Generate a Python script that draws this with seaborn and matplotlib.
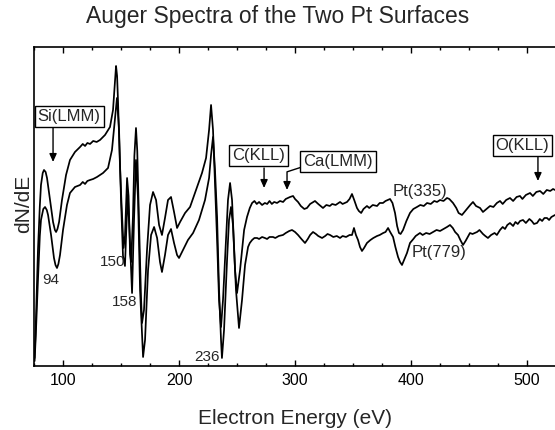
import pandas as pd
import seaborn as sns
import matplotlib.pyplot as plt
from matplotlib.ticker import MultipleLocator

# Pt(335) surface, upper trace (energy in eV, dN/dE in arbitrary units)
pt335_ev = [75.5, 76.5, 78.4, 80.0, 81.0, 82.5, 83.6, 85.0, 86.2, 88.8, 91.4, 93.0, 94.0, 95.2, 96.6,
            99.1, 102.6, 106.0, 110.3, 114.7, 117.0, 119.0, 121.0, 123.3, 126.0, 129.0, 131.9, 136.2,
            140.5, 143.1, 144.8, 145.7, 146.6, 147.4, 149.1, 150.5, 152.2, 153.4, 155.2, 156.5, 157.8,
            158.7, 160.3, 161.5, 162.9, 164.0, 165.6, 167.2, 168.1, 169.8, 172.4, 175.0, 177.6, 180.2,
            182.8, 185.3, 187.9, 190.5, 193.1, 195.7, 198.3, 200.9, 205.2, 209.5, 214.7, 219.8, 223.3,
            225.9, 227.6, 229.3, 231.0, 232.8, 234.5, 236.2, 237.9, 240.5, 242.2, 244.0, 245.7, 248.3,
            250.0, 252.6, 256.1, 258.6, 261.0, 263.0, 265.0, 267.0, 269.0, 271.6, 274.0, 276.0, 278.0,
            280.0, 282.0, 284.5, 287.0, 289.7, 292.0, 295.7, 298.3, 300.0, 302.6, 305.0, 308.0, 310.3,
            313.0, 317.2, 320.0, 324.1, 327.0, 330.0, 332.0, 335.0, 338.8, 341.0, 344.8, 347.0, 349.1,
            351.0, 353.4, 355.0, 357.0, 359.0, 362.0, 364.0, 367.0, 370.7, 373.0, 375.8, 378.0, 381.9,
            384.0, 386.2, 388.0, 389.6, 391.0, 393.1, 396.0, 399.1, 402.0, 405.1, 408.0, 411.0, 413.8,
            417.0, 420.0, 422.4, 425.0, 428.0, 431.0, 433.0, 436.2, 439.0, 441.0, 443.9, 446.0, 448.2,
            451.0, 453.4, 456.0, 459.5, 462.0, 465.0, 468.1, 471.0, 474.0, 476.7, 479.0, 482.0, 485.3,
            488.0, 491.0, 493.9, 496.0, 499.0, 502.6, 505.0, 508.0, 511.2, 514.0, 517.0, 520.0, 522.4,
            524.1]
pt335_signal = [8, 40, 116, 160, 181, 193, 196, 194, 188, 166, 144, 136, 134, 137, 144,
                166, 191, 206, 214, 219, 222, 220, 223, 222, 225, 224, 226, 231,
                239, 256, 284, 300, 290, 265, 200, 160, 118, 130, 188, 170, 112,
                104, 150, 210, 238, 215, 140, 70, 43, 56, 116, 161, 174, 166,
                141, 131, 148, 166, 169, 154, 138, 144, 153, 159, 176, 193, 208,
                236, 261, 236, 183, 126, 66, 39, 66, 126, 166, 183, 166, 96,
                73, 96, 136, 149, 158, 163, 165, 162, 164, 161, 163, 162, 165,
                162, 164, 163, 165, 164, 167, 169, 170, 167, 164, 160, 157, 158,
                162, 165, 162, 158, 161, 160, 162, 161, 164, 162, 164, 167, 172,
                166, 158, 155, 153, 157, 160, 158, 161, 160, 163, 163, 165, 167,
                163, 153, 140, 133, 132, 136, 145, 153, 157, 159, 161, 160, 163,
                162, 165, 164, 166, 165, 168, 167, 163, 158, 153, 151, 154, 157,
                161, 164, 160, 158, 154, 157, 160, 159, 163, 165, 162, 166, 168,
                165, 169, 170, 167, 171, 173, 170, 174, 175, 172, 176, 175, 177,
                176]

# Pt(779) surface, lower trace
pt779_ev = [75.5, 76.5, 78.4, 80.0, 81.0, 83.0, 84.5, 86.0, 87.1, 89.7, 92.2, 93.5, 94.8, 96.0, 97.4,
            100.0, 103.4, 106.0, 110.3, 114.7, 117.0, 119.0, 121.0, 123.3, 126.0, 129.3, 134.5, 138.8,
            142.2, 144.8, 146.5, 148.3, 150.0, 151.7, 153.4, 154.5, 155.8, 157.5, 159.5, 161.2, 162.9,
            164.7, 166.4, 169.0, 170.7, 173.3, 175.9, 178.5, 181.1, 183.6, 185.3, 187.9, 190.5, 193.1,
            195.7, 198.3, 200.0, 203.4, 207.7, 212.1, 217.2, 222.4, 225.9, 227.6, 229.3, 231.0, 232.8,
            234.5, 236.2, 237.0, 238.8, 241.4, 243.1, 244.8, 246.5, 249.1, 251.7, 254.3, 256.9, 259.5,
            261.0, 263.0, 265.0, 267.3, 269.0, 271.6, 274.0, 275.9, 278.0, 281.0, 283.0, 286.0, 289.6,
            292.0, 295.0, 297.4, 300.0, 302.6, 305.5, 308.6, 311.0, 313.0, 315.5, 318.0, 320.0, 323.3,
            326.0, 328.0, 330.2, 333.0, 336.0, 338.8, 341.0, 344.0, 347.0, 349.1, 350.8, 352.5, 354.3,
            356.0, 357.7, 359.5, 362.0, 365.0, 367.5, 370.7, 373.0, 376.0, 378.0, 380.2, 382.0, 384.5,
            386.5, 388.8, 390.5, 392.2, 394.0, 396.5, 399.1, 402.0, 404.0, 407.7, 410.0, 413.0, 416.0,
            419.0, 422.0, 425.0, 428.0, 431.0, 433.6, 436.0, 438.0, 440.5, 442.5, 444.8, 447.0, 450.8,
            453.0, 456.9, 459.0, 462.0, 464.0, 466.3, 469.0, 472.0, 474.0, 476.7, 479.0, 481.0, 483.0,
            485.3, 488.0, 490.0, 492.0, 494.0, 496.5, 499.0, 502.0, 504.0, 506.0, 508.6, 511.0, 513.0,
            515.0, 517.2, 519.0, 521.0, 524.1]
pt779_signal = [5, 30, 86, 130, 146, 157, 159, 156, 151, 131, 108, 101, 98, 102, 111,
                136, 161, 173, 179, 181, 184, 182, 185, 186, 187, 189, 193, 198,
                216, 248, 268, 236, 166, 110, 100, 135, 172, 130, 73, 146, 206,
                166, 76, 9, 26, 96, 131, 139, 128, 104, 94, 111, 131, 137,
                123, 111, 108, 116, 126, 133, 146, 166, 188, 211, 229, 196, 149,
                76, 26, 8, 36, 106, 146, 159, 141, 76, 38, 66, 101, 119,
                123, 126, 128, 128, 127, 129, 128, 127, 129, 129, 128, 130, 131,
                133, 135, 136, 134, 131, 127, 123, 127, 131, 134, 132, 130, 128,
                130, 132, 131, 129, 130, 128, 130, 129, 131, 131, 138, 131, 126,
                119, 115, 118, 123, 126, 128, 130, 131, 133, 134, 138, 134, 129,
                119, 109, 104, 101, 106, 113, 123, 127, 130, 133, 131, 133, 132,
                134, 136, 135, 137, 139, 141, 138, 134, 131, 126, 121, 125, 133,
                132, 134, 136, 132, 130, 128, 131, 133, 131, 136, 139, 137, 141,
                143, 140, 144, 142, 145, 146, 143, 147, 145, 142, 143, 147, 145,
                148, 148, 146, 149, 151]

# peak energies marked on the curves
peak_labels = ["94", "150", "158", "236"]
peak_x = [81.9, 153.4, 163.8, 235.3]
peak_y = [86, 104, 64, 9]
peak_ha = ["left", "right", "right", "right"]

# element labels in boxes with arrows pointing to the curves
elem_labels = ["Si(LMM)", "C(KLL)", "Ca(LMM)", "O(KLL)"]
elem_box_x = [105.2, 268.5, 337.0, 496.1]
elem_box_y = [249.5, 210, 204, 220]
arrow_from_x = [91.4, 273.3, 306.0, 509.4]
arrow_from_y = [238, 198, 199, 209]
arrow_to_x = [91.4, 273.3, 293.1, 509.4]
arrow_to_y = [204, 178, 176, 185]
arrow_style = ["arc3", "arc3", "angle,angleA=18,angleB=90,rad=0", "arc3"]

df = pd.concat([
    pd.DataFrame({"energy": pt335_ev, "signal": pt335_signal, "surface": "Pt(335)"}),
    pd.DataFrame({"energy": pt779_ev, "signal": pt779_signal, "surface": "Pt(779)"}),
])

sns.set_theme(style="ticks")
plt.rcParams['font.family'] = ['Liberation Sans', 'DejaVu Sans']

fig = plt.figure(figsize=(5.55, 4.30), dpi=100)
ax = fig.add_axes([0.0613, 0.1488, 0.9387, 0.742])

sns.lineplot(data=df, x="energy", y="signal", hue="surface", units="surface",
             estimator=None, palette={"Pt(335)": "black", "Pt(779)": "black"},
             linewidth=1.25, legend=False, ax=ax)

ax.set_xlim(75, 524.1)
ax.set_ylim(0, 319)
ax.set_yticks([])
ax.set_xlabel("")
ax.set_ylabel("")
ax.xaxis.set_major_locator(MultipleLocator(100))
ax.xaxis.set_minor_locator(MultipleLocator(25))
ax.tick_params(axis="x", which="both", direction="in", top=True, bottom=True,
               labelsize=11.5, pad=5, width=1, colors="black")
ax.tick_params(axis="x", which="major", length=4)
ax.tick_params(axis="x", which="minor", length=2.5)
for side in ["left", "top", "bottom"]:
    ax.spines[side].set_linewidth(1.2)
    ax.spines[side].set_color("black")
ax.spines["right"].set_visible(False)

for lab, x, y, ha in zip(peak_labels, peak_x, peak_y, peak_ha):
    ax.text(x, y, lab, ha=ha, va="center", fontsize=11)

ax.text(384.5, 174, "Pt(335)", ha="left", va="center", fontsize=12)
ax.text(400.8, 113, "Pt(779)", ha="left", va="center", fontsize=12)

for i, lab in enumerate(elem_labels):
    ax.text(elem_box_x[i], elem_box_y[i], lab, ha="center", va="center", fontsize=12, zorder=5,
            bbox=dict(boxstyle="square,pad=0.18", fc="white", ec="black", lw=1))
    ax.annotate("", xy=(arrow_to_x[i], arrow_to_y[i]), xytext=(arrow_from_x[i], arrow_from_y[i]),
                arrowprops=dict(arrowstyle="-|>,head_length=0.4,head_width=0.18", color="black",
                                lw=1, shrinkA=0, shrinkB=0, connectionstyle=arrow_style[i],
                                mutation_scale=12))

fig.text(0.5, 1 - 16 / 430, "Auger Spectra of the Two Pt Surfaces", ha="center", va="center",
         fontsize=16.5)
fig.text(0.532, 1 - 418 / 430, "Electron Energy (eV)", ha="center", va="center", fontsize=15)
fig.text(0.042, 1 - 204 / 430, "dN/dE", ha="center", va="center", rotation=90, fontsize=15)

fig.savefig("out.png", dpi=100)
